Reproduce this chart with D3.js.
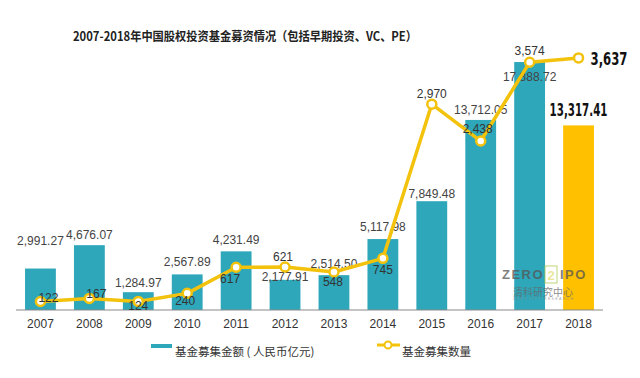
<!DOCTYPE html>
<html>
<head>
<meta charset="utf-8">
<script src="https://cdn.jsdelivr.net/npm/d3@7"></script>
<style>
  html, body { margin: 0; padding: 0; background: #fff; }
  svg { display: block; }
</style>
</head>
<body>
<div id="chart"></div>
<script>

//******************************************************************************
//**  Data
//******************************************************************************
var years = ["2007","2008","2009","2010","2011","2012","2013","2014","2015","2016","2017","2018"];
var amounts = [2991.27, 4676.07, 1284.97, 2567.89, 4231.49, 2177.91, 2514.50, 5117.98, 7849.48, 13712.05, 17888.72, 13317.41];
var counts = [122, 167, 124, 240, 617, 621, 548, 745, 2970, 2438, 3574, 3637];
var title = "2007-2018年中国股权投资基金募资情况（包括早期投资、VC、PE）";
var legendLabels = ["基金募集金额 ( 人民币亿元)", "基金募集数量"];


//******************************************************************************
//**  Chart
//******************************************************************************
var width = 640, height = 378;
var baseY = 310, topY = 60.5;
var teal = "#2ea7ba", gold = "#ffc000", lineColor = "#f2c20c";
var font = "'Liberation Sans', Arial, sans-serif";
var narrow = "'DejaVu Sans Condensed', 'DejaVu Sans', sans-serif";
var cjk = "'Noto Sans CJK SC', sans-serif";

var svg = d3.select("#chart").append("svg")
    .attr("width", width)
    .attr("height", height);

var x = d3.scaleBand()
    .domain(years)
    .range([16, 603])
    .paddingInner(0.37)
    .paddingOuter(0.185);

var yAmount = d3.scaleLinear().domain([0, 18000]).range([baseY, topY]);
var yCount = d3.scaleLinear().domain([0, 3600]).range([baseY, topY]);

var cx = function(d, i){ return x(years[i]) + x.bandwidth()/2; };
var last = years.length - 1;


//**************************************************************************
//** squeeze - narrow a bold label to a given width (condensed look)
//**************************************************************************
var squeeze = function(sel, px, py, w, anchor){
    sel.attr("x", 0).attr("y", 0)
       .attr("font-family", narrow)
       .attr("font-size", 18)
       .attr("font-weight", "bold")
       .attr("fill", "#111")
       .attr("text-anchor", anchor);
    var len = sel.node().getComputedTextLength();
    var s = w / len;
    sel.attr("transform", "translate(" + px + "," + py + ") scale(" + s + ",1)");
};


//Title
svg.append("text")
    .attr("x", 73)
    .attr("y", 35)
    .attr("dominant-baseline", "central")
    .attr("font-family", cjk)
    .attr("font-size", 12.5)
    .attr("font-weight", "bold")
    .attr("fill", "#222")
    .attr("textLength", 344)
    .attr("lengthAdjust", "spacingAndGlyphs")
    .text(title);


//Bars
svg.append("g").selectAll("rect")
    .data(amounts)
    .enter().append("rect")
    .attr("x", function(d, i){ return x(years[i]); })
    .attr("y", function(d){ return yAmount(d); })
    .attr("width", x.bandwidth())
    .attr("height", function(d){ return baseY - yAmount(d); })
    .attr("fill", function(d, i){ return i === last ? gold : teal; });


//Watermark
var wm = svg.append("g").attr("opacity", 0.75);
wm.append("text").attr("x", 502).attr("y", 274).attr("dominant-baseline", "central")
    .attr("font-family", font).attr("font-size", 13).attr("font-weight", "bold")
    .attr("letter-spacing", 1.5).attr("fill", "#555").text("ZERO");
wm.append("rect").attr("x", 545).attr("y", 266).attr("width", 12).attr("height", 17)
    .attr("fill", "none").attr("stroke", "#a6c94a").attr("stroke-width", 1);
wm.append("text").attr("x", 551).attr("y", 275).attr("text-anchor", "middle").attr("dominant-baseline", "central")
    .attr("font-family", font).attr("font-size", 13).attr("font-weight", "bold")
    .attr("fill", "#e3e07a").text("2");
wm.append("text").attr("x", 560).attr("y", 274).attr("dominant-baseline", "central")
    .attr("font-family", font).attr("font-size", 13).attr("font-weight", "bold")
    .attr("letter-spacing", 1.5).attr("fill", "#555").text("IPO");
wm.append("text").attr("x", 513).attr("y", 291).attr("dominant-baseline", "central")
    .attr("font-family", cjk).attr("font-size", 10).attr("fill", "#666")
    .attr("textLength", 60).attr("lengthAdjust", "spacingAndGlyphs").text("清科研究中心");
wm.append("text").attr("x", 513).attr("y", 299).attr("dominant-baseline", "central")
    .attr("font-family", font).attr("font-size", 3.5).attr("fill", "#888")
    .attr("textLength", 60).text("ZERO2IPO RESEARCH");


//Axis
var axis = svg.append("g")
    .attr("transform", "translate(0," + baseY + ")")
    .call(d3.axisBottom(x).tickSize(0).tickPadding(9));
axis.select(".domain").attr("stroke", "#8a8a8a").attr("stroke-width", 1.2)
    .attr("d", "M16,0H603");
axis.selectAll("text")
    .attr("font-family", font)
    .attr("font-size", 12)
    .attr("fill", "#333");


//Amount labels (center offset from bar top)
var amountDy = [-28, -10, -9, -12, -11, -3, -11, -12, -7, -10, 15, -15];
var amountLabels = svg.append("g").selectAll("text")
    .data(amounts)
    .enter().append("text")
    .attr("x", cx)
    .attr("y", function(d, i){ return yAmount(d) + amountDy[i]; })
    .attr("text-anchor", "middle")
    .attr("dominant-baseline", "central")
    .attr("font-family", font)
    .attr("font-size", 12)
    .attr("fill", "#444")
    .text(function(d){ return d3.format(",.2f")(d); });
amountLabels.filter(function(d, i){ return i === last; })
    .each(function(d){
        squeeze(d3.select(this), cx(d, last), yAmount(d) - 15, 58, "middle");
    });


//Line
var line = d3.line()
    .x(cx)
    .y(function(d){ return yCount(d); });

svg.append("path")
    .attr("d", line(counts))
    .attr("fill", "none")
    .attr("stroke", lineColor)
    .attr("stroke-width", 3.5)
    .attr("stroke-linejoin", "round");

svg.append("g").selectAll("circle")
    .data(counts)
    .enter().append("circle")
    .attr("cx", cx)
    .attr("cy", function(d){ return yCount(d); })
    .attr("r", 4.5)
    .attr("fill", "#fff")
    .attr("stroke", lineColor)
    .attr("stroke-width", 2.5);


//Count labels
var countOffset = [[8,-4],[7,-4],[0,5],[-2,8],[-6,12],[-2,-10],[-1,10],[0,12],[0,-10],[-3,-12],[0,-11],[12,1]];
var countLabels = svg.append("g").selectAll("text")
    .data(counts)
    .enter().append("text")
    .attr("x", function(d, i){ return cx(d, i) + countOffset[i][0]; })
    .attr("y", function(d, i){ return yCount(d) + countOffset[i][1]; })
    .attr("text-anchor", "middle")
    .attr("dominant-baseline", "central")
    .attr("font-family", font)
    .attr("font-size", 12)
    .attr("fill", "#333")
    .text(function(d){ return d3.format(",")(d); });
countLabels.filter(function(d, i){ return i === last; })
    .each(function(d){
        squeeze(d3.select(this), cx(d, last) + countOffset[last][0], yCount(d) + countOffset[last][1], 37, "start");
    });


//Legend
var legend = svg.append("g");
legend.append("rect")
    .attr("x", 151).attr("y", 344)
    .attr("width", 21).attr("height", 4)
    .attr("fill", teal);
legend.append("text")
    .attr("x", 175).attr("y", 351)
    .attr("dominant-baseline", "central")
    .attr("font-family", cjk).attr("font-size", 11.5).attr("fill", "#333")
    .text(legendLabels[0]);
legend.append("line")
    .attr("x1", 377).attr("x2", 400).attr("y1", 345).attr("y2", 345)
    .attr("stroke", lineColor).attr("stroke-width", 3);
legend.append("circle")
    .attr("cx", 388).attr("cy", 345).attr("r", 3.5)
    .attr("fill", "#fff").attr("stroke", lineColor).attr("stroke-width", 2);
legend.append("text")
    .attr("x", 402).attr("y", 351)
    .attr("dominant-baseline", "central")
    .attr("font-family", cjk).attr("font-size", 11.5).attr("fill", "#333")
    .text(legendLabels[1]);

</script>
</body>
</html>
